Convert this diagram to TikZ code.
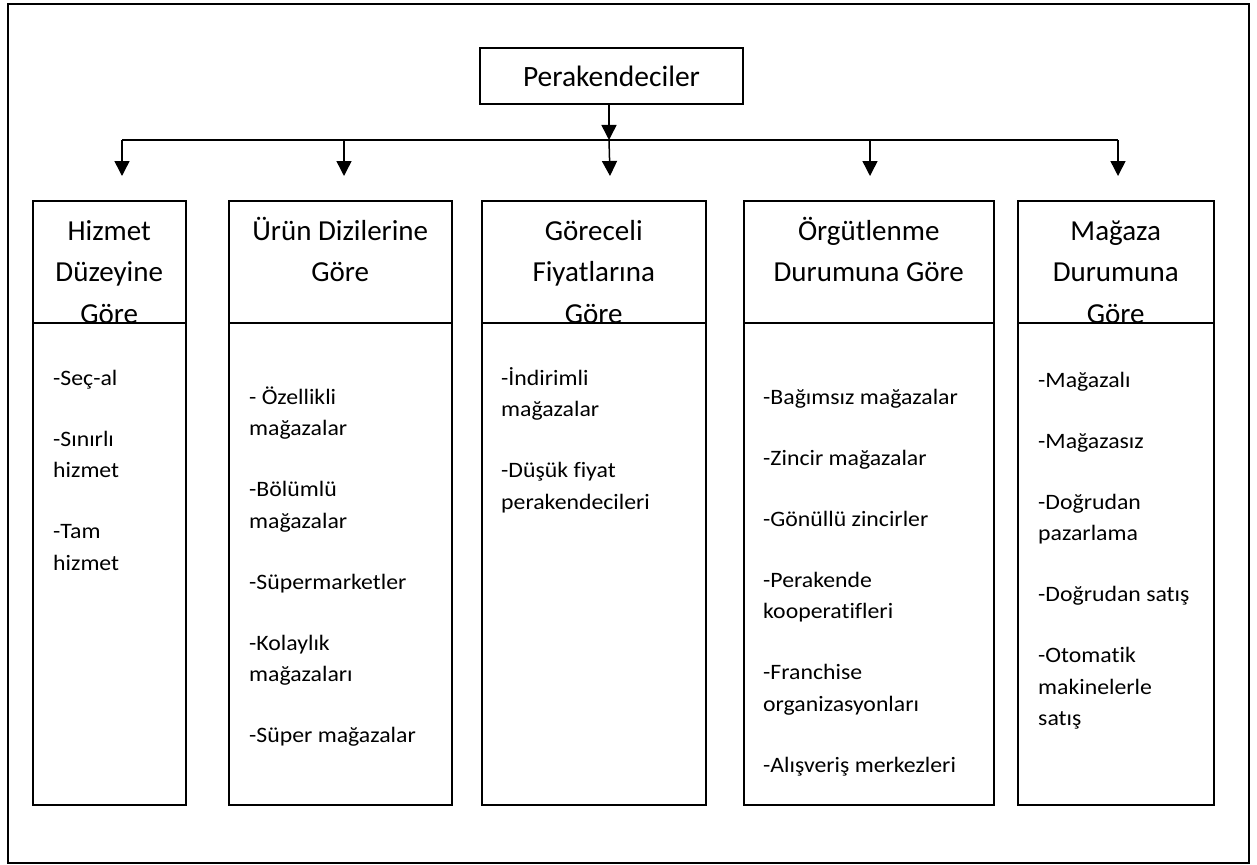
\documentclass[tikz,border=0pt]{standalone}
\usepackage{fontspec}
\setmainfont{Carlito}[Ligatures=NoCommon]
\newfontfamily\itemfont{Carlito}[Ligatures=NoCommon, FakeStretch=1.08]
\usetikzlibrary{arrows.meta}
\begin{document}
\begin{tikzpicture}[x=1pt,y=-1pt,
  frame/.style={draw, line width=1.8pt},
  box/.style={draw, line width=1.5pt, inner sep=0pt, anchor=north west},
  link/.style={line width=1.5pt},
  arr/.style={line width=1.5pt, -{Triangle[length=15pt,width=15pt]}},
  rootbox/.style={draw, line width=1.5pt, minimum width=263pt, minimum height=56pt,
    inner sep=0pt, font=\fontsize{29.5}{35}\selectfont},
  headtext/.style={anchor=base, inner sep=0pt, font=\fontsize{29}{41.5}\selectfont},
  itemtext/.style={anchor=base west, inner sep=0pt, font=\itemfont\fontsize{22}{31.5}\selectfont}]

\useasboundingbox (0,0) rectangle (1257,864);
\draw[frame] (8,4) rectangle (1249,863);

% top node
\node[rootbox] (root) at (611.5,76) {Perakendeciler};

% distribution bar
\coordinate (bc) at (609,140);
\coordinate (b1) at (122,140);
\coordinate (b2) at (344,140);
\coordinate (b4) at (870,140);
\coordinate (b5) at (1118,140);
\coordinate (t1) at (122,176);
\coordinate (t2) at (344,176);
\coordinate (t3) at (610,176);
\coordinate (t4) at (870,176);
\coordinate (t5) at (1118,176);

\draw[arr] (root.south -| bc) -- (bc);
\draw[link] (b1) -- (b5);
\draw[arr] (b1) -- (t1);
\draw[arr] (b2) -- (t2);
\draw[arr] (bc) -- (t3);
\draw[arr] (b4) -- (t4);
\draw[arr] (b5) -- (t5);

% category boxes: header part and list part
\node[box, minimum width=153pt, minimum height=122pt] (h1) at (32,200) {};
\node[box, minimum width=153pt, minimum height=482pt] (l1) at (32,322) {};
\node[box, minimum width=223pt, minimum height=122pt] (h2) at (228,200) {};
\node[box, minimum width=223pt, minimum height=482pt] (l2) at (228,322) {};
\node[box, minimum width=224pt, minimum height=122pt] (h3) at (481,200) {};
\node[box, minimum width=224pt, minimum height=482pt] (l3) at (481,322) {};
\node[box, minimum width=250pt, minimum height=122pt] (h4) at (743,200) {};
\node[box, minimum width=250pt, minimum height=482pt] (l4) at (743,322) {};
\node[box, minimum width=196pt, minimum height=122pt] (h5) at (1017,200) {};
\node[box, minimum width=196pt, minimum height=482pt] (l5) at (1017,322) {};

% header texts
\node[headtext] (ht1) at (h1.north |- 0,240) {\parbox[t]{200pt}{\centering Hizmet\\Düzeyine\\Göre}};
\node[headtext] (ht2) at (h2.north |- 0,240) {\parbox[t]{240pt}{\centering Ürün Dizilerine\\Göre}};
\node[headtext] (ht3) at (h3.north |- 0,240) {\parbox[t]{240pt}{\centering Göreceli\\Fiyatlarına\\Göre}};
\node[headtext] (ht4) at (h4.north |- 0,240) {\parbox[t]{260pt}{\centering Örgütlenme\\Durumuna Göre}};
\node[headtext] (ht5) at (h5.north |- 0,240) {\parbox[t]{220pt}{\centering Mağaza\\Durumuna\\Göre}};

% list texts
\node[itemtext] (lt1) at (53,385) {\parbox[t]{240pt}{\raggedright
  -Seç-al\\[29.5pt]
  -Sınırlı\\
  hizmet\\[29.5pt]
  -Tam\\
  hizmet}};
\node[itemtext] (lt2) at (249,404) {\parbox[t]{240pt}{\raggedright
  - Özellikli\\
  mağazalar\\[29.5pt]
  -Bölümlü\\
  mağazalar\\[29.5pt]
  -Süpermarketler\\[29.5pt]
  -Kolaylık\\
  mağazaları\\[29.5pt]
  -Süper mağazalar}};
\node[itemtext] (lt3) at (501,385) {\parbox[t]{240pt}{\raggedright
  -İndirimli\\
  mağazalar\\[29.5pt]
  -Düşük fiyat\\
  perakendecileri}};
\node[itemtext] (lt4) at (763,404) {\parbox[t]{240pt}{\raggedright
  -Bağımsız mağazalar\\[29.5pt]
  -Zincir mağazalar\\[29.5pt]
  -Gönüllü zincirler\\[29.5pt]
  -Perakende\\
  kooperatifleri\\[29.5pt]
  -Franchise\\
  organizasyonları\\[29.5pt]
  -Alışveriş merkezleri}};
\node[itemtext] (lt5) at (1038,387) {\parbox[t]{240pt}{\raggedright
  -Mağazalı\\[29.5pt]
  -Mağazasız\\[29.5pt]
  -Doğrudan\\
  pazarlama\\[29.5pt]
  -Doğrudan satış\\[29.5pt]
  -Otomatik\\
  makinelerle\\
  satış}};
\end{tikzpicture}
\end{document}
